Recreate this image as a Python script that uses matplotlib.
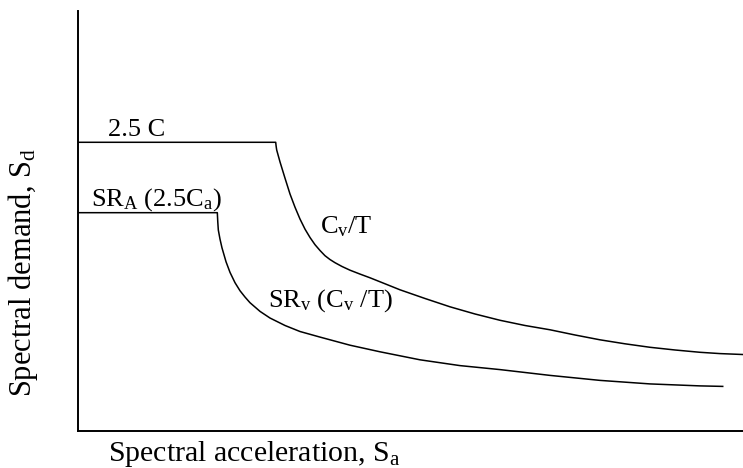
import matplotlib as mpl
import matplotlib.pyplot as plt

mpl.rcParams["font.family"] = ["Liberation Serif", "DejaVu Serif"]
mpl.rcParams["mathtext.default"] = "regular"

# upper spectrum: plateau 2.5C, then Cv/T branch
upper_sa = [0.0, 2.973, 2.979, 2.988, 3.038, 3.113, 3.188, 3.263, 3.338, 3.414,
            3.489, 3.564, 3.639, 3.714, 3.789, 3.865, 3.970, 4.090, 4.241, 4.391,
            4.617, 4.842, 5.218, 5.594, 5.970, 6.346, 6.722, 7.098, 7.474, 7.850,
            8.226, 8.602, 8.977, 9.353, 9.654, 10.0]
upper_sd = [6.874, 6.874, 6.786, 6.690, 6.405, 6.019, 5.643, 5.329, 5.048, 4.805,
            4.607, 4.436, 4.298, 4.174, 4.083, 4.007, 3.917, 3.829, 3.736, 3.648,
            3.505, 3.362, 3.155, 2.957, 2.786, 2.636, 2.512, 2.410, 2.286, 2.171,
            2.076, 1.993, 1.929, 1.874, 1.843, 1.821]

# reduced spectrum: SR_A plateau, then SR_V branch
lower_sa = [0.0, 2.095, 2.102, 2.110, 2.135, 2.165, 2.226, 2.286, 2.361, 2.436,
            2.511, 2.586, 2.737, 2.887, 3.113, 3.338, 3.639, 4.090, 4.541, 5.143,
            5.744, 6.346, 7.098, 7.850, 8.602, 9.353, 9.695]
lower_sd = [5.198, 5.198, 4.976, 4.786, 4.571, 4.362, 4.029, 3.776, 3.531, 3.340,
            3.190, 3.055, 2.848, 2.690, 2.512, 2.369, 2.236, 2.043, 1.886, 1.695,
            1.557, 1.462, 1.324, 1.205, 1.121, 1.074, 1.062]

labels = [
    (0.451, 7.03, "2.5 C"),
    (0.195, 5.357, "SR$_A$ (2.5C$_a$)"),
    (3.639, 4.707, "C$_v$/T"),
    (2.862, 2.960, "SR$_v$ (C$_v$ /T)"),
]


def main():
    fig = plt.figure(figsize=(7.43, 4.68), dpi=100)
    ax = fig.add_axes([78 / 743, 37 / 468, 665 / 743, 420 / 468])

    ax.plot(upper_sa, upper_sd, color="black", lw=1.1)
    ax.plot(lower_sa, lower_sd, color="black", lw=1.1)

    for x, y, s in labels:
        ax.text(x, y, s, fontsize=19, ha="left", va="baseline")

    ax.set_xlim(0, 10)
    ax.set_ylim(0, 10)
    ax.set_xticks([])
    ax.set_yticks([])
    for side in ("top", "right"):
        ax.spines[side].set_visible(False)
    for side in ("left", "bottom"):
        ax.spines[side].set_linewidth(1.4)

    fig.text(108 / 743, 7 / 468, "Spectral acceleration, S$_a$",
             fontsize=21.5, ha="left", va="baseline")
    fig.text(23 / 743, 1 - 272 / 468, "Spectral demand, S$_d$",
             fontsize=22, rotation=90, ha="center", va="center")

    fig.savefig("out.png", dpi=100)
    plt.close(fig)


if __name__ == "__main__":
    main()
